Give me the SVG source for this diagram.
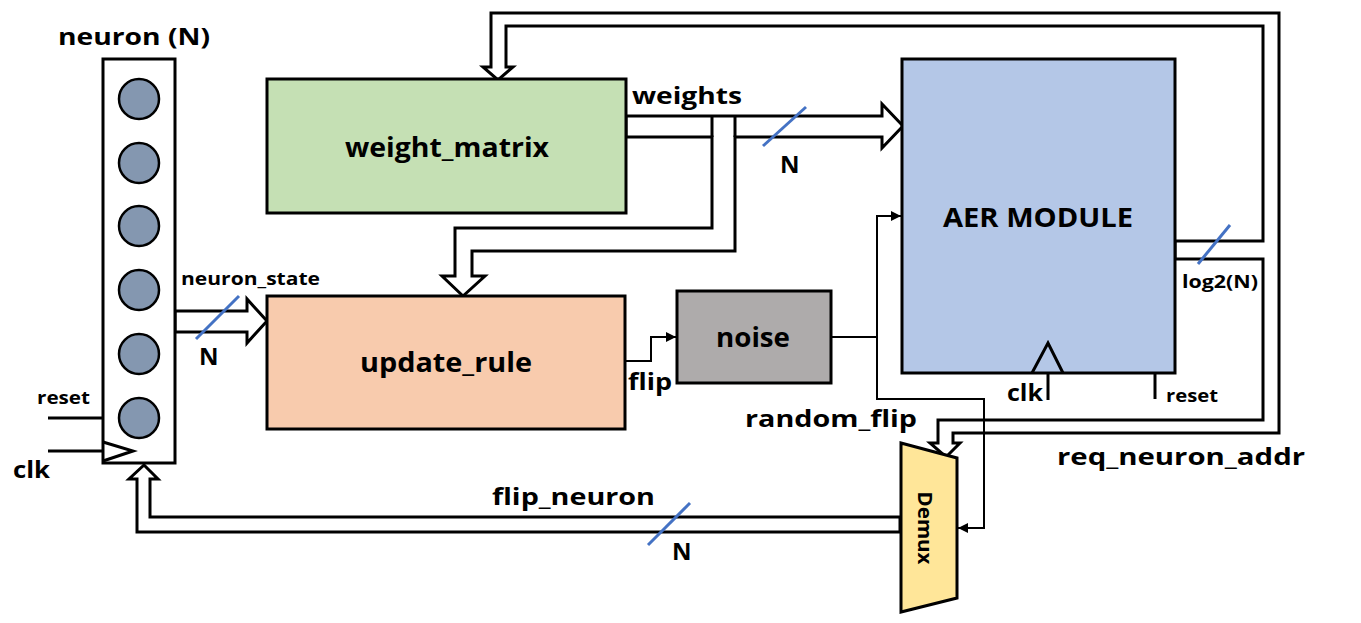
<svg xmlns="http://www.w3.org/2000/svg" width="1361" height="623" viewBox="0 0 1361 623">
<style>
.box{stroke:#000;stroke-width:3}
.bus{fill:#fff;stroke:#000;stroke-width:3;stroke-linejoin:miter}
.ln{fill:none;stroke:#000;stroke-width:3}
.thin{fill:none;stroke:#000;stroke-width:2}
.sl{stroke:#4472C4;stroke-width:3}
.t{font-family:"Open Sans","Noto Sans",sans-serif;font-weight:700;fill:#000}
.L{font-size:26px}
.M{font-size:24px}
.S{font-size:17px}
.c{fill:#8497B0;stroke:#000;stroke-width:2.5}
</style>
<defs>
<marker id="ah" viewBox="0 0 10 10" refX="10" refY="5" markerWidth="5" markerHeight="5" orient="auto" markerUnits="strokeWidth">
<path d="M0,0 L10,5 L0,10 z" fill="#000"/>
</marker>
</defs>

<g id="connectors">
<!-- top address bus loop -->
<polygon class="bus" points="491,67 491,13 1279,13 1279,433 953,433 953,443 960,443 946,457 930,443 938,443 938,420 1263,420 1263,259 1175,259 1175,241 1263,241 1263,26 506,26 506,67 513,67 498,80 483,67"/>
<!-- weights bus -->
<polygon class="bus" points="626,116 882,116 882,104 903,126 882,148 882,137 735,137 735,251 472,251 472,276 485,276 463,296 442,276 455,276 455,228 712,228 712,137 626,137"/>
<line class="ln" x1="712" y1="116" x2="712" y2="137"/>
<line class="ln" x1="735" y1="116" x2="735" y2="137"/>
<!-- neuron_state bus -->
<polygon class="bus" points="175,311 247,311 247,299 267,321 247,343 247,332 175,332"/>
<!-- flip_neuron bus -->
<polygon class="bus" points="900,517 150,517 150,479 158,479 144,465 129,479 137,479 137,532 900,532"/>
<!-- thin signals -->
<path class="thin" d="M625,361 H651 V337 H676" marker-end="url(#ah)"/>
<path class="thin" d="M831,337 H877 V216 H901" marker-end="url(#ah)"/>
<path class="thin" d="M877,337 V399 H984 V528 H958" marker-end="url(#ah)"/>
<!-- reset / clk lines -->
<line class="ln" x1="48" y1="418" x2="103" y2="418"/>
<line class="ln" x1="48" y1="451" x2="103" y2="451"/>
<line class="ln" x1="1048" y1="373" x2="1048" y2="400"/>
<line class="ln" x1="1155" y1="373" x2="1155" y2="399"/>
<!-- width slashes -->
<line class="sl" x1="763" y1="146" x2="806" y2="107"/>
<line class="sl" x1="196" y1="339" x2="239" y2="296"/>
<line class="sl" x1="1198" y1="264" x2="1230" y2="225"/>
<line class="sl" x1="648" y1="545" x2="690" y2="503"/>
</g>

<g id="neuron">
<rect class="box" x="103" y="59" width="72" height="404" fill="#fff"/>
<circle class="c" cx="139" cy="99" r="20"/>
<circle class="c" cx="139" cy="163" r="20"/>
<circle class="c" cx="139" cy="226" r="20"/>
<circle class="c" cx="139" cy="290" r="20"/>
<circle class="c" cx="139" cy="354" r="20"/>
<circle class="c" cx="139" cy="418" r="20"/>
<polyline class="ln" points="103,442 133,451 103,461"/>
<text class="t M" x="58" y="45" textLength="152" lengthAdjust="spacingAndGlyphs">neuron (N)</text>
</g>

<g id="weight_matrix">
<rect class="box" x="267" y="79" width="359" height="134" fill="#C5E0B4"/>
<text class="t L" x="345" y="157" textLength="204" lengthAdjust="spacingAndGlyphs">weight_matrix</text>
</g>

<g id="update_rule">
<rect class="box" x="267" y="296" width="358" height="133" fill="#F8CBAD"/>
<text class="t L" x="360" y="372" textLength="172" lengthAdjust="spacingAndGlyphs">update_rule</text>
</g>

<g id="noise">
<rect class="box" x="677" y="291" width="154" height="92" fill="#AEABAB"/>
<text class="t L" x="716" y="347" textLength="74" lengthAdjust="spacingAndGlyphs">noise</text>
</g>

<g id="aer">
<rect class="box" x="902" y="59" width="273" height="314" fill="#B4C7E7"/>
<polyline class="ln" points="1032,373 1048,343 1063,373"/>
<text class="t L" x="943" y="227" textLength="190" lengthAdjust="spacingAndGlyphs">AER MODULE</text>
</g>

<g id="demux">
<polygon class="box" points="901,443 957,458 957,598 901,612" fill="#FFE699"/>
<text class="t" font-size="20" transform="translate(918,528) rotate(90)" text-anchor="middle" textLength="73" lengthAdjust="spacingAndGlyphs">Demux</text>
</g>

<g id="labels">
<text class="t M" x="632" y="104" textLength="110" lengthAdjust="spacingAndGlyphs">weights</text>
<text class="t M" x="780" y="173">N</text>
<text class="t S" x="181" y="285" textLength="139" lengthAdjust="spacingAndGlyphs">neuron_state</text>
<text class="t M" x="199" y="365">N</text>
<text class="t M" x="628" y="390" textLength="44" lengthAdjust="spacingAndGlyphs">flip</text>
<text class="t M" x="745" y="427" textLength="172" lengthAdjust="spacingAndGlyphs">random_flip</text>
<text class="t M" x="1007" y="401" textLength="36" lengthAdjust="spacingAndGlyphs">clk</text>
<text class="t S" x="1166" y="402" textLength="52" lengthAdjust="spacingAndGlyphs">reset</text>
<text class="t S" x="1182" y="288" textLength="76" lengthAdjust="spacingAndGlyphs">log2(N)</text>
<text class="t M" x="1057" y="465" textLength="248" lengthAdjust="spacingAndGlyphs">req_neuron_addr</text>
<text class="t M" x="492" y="505" textLength="163" lengthAdjust="spacingAndGlyphs">flip_neuron</text>
<text class="t M" x="672" y="560">N</text>
<text class="t S" x="37" y="404" textLength="53" lengthAdjust="spacingAndGlyphs">reset</text>
<text class="t M" x="13" y="478" textLength="37" lengthAdjust="spacingAndGlyphs">clk</text>
</g>
</svg>
